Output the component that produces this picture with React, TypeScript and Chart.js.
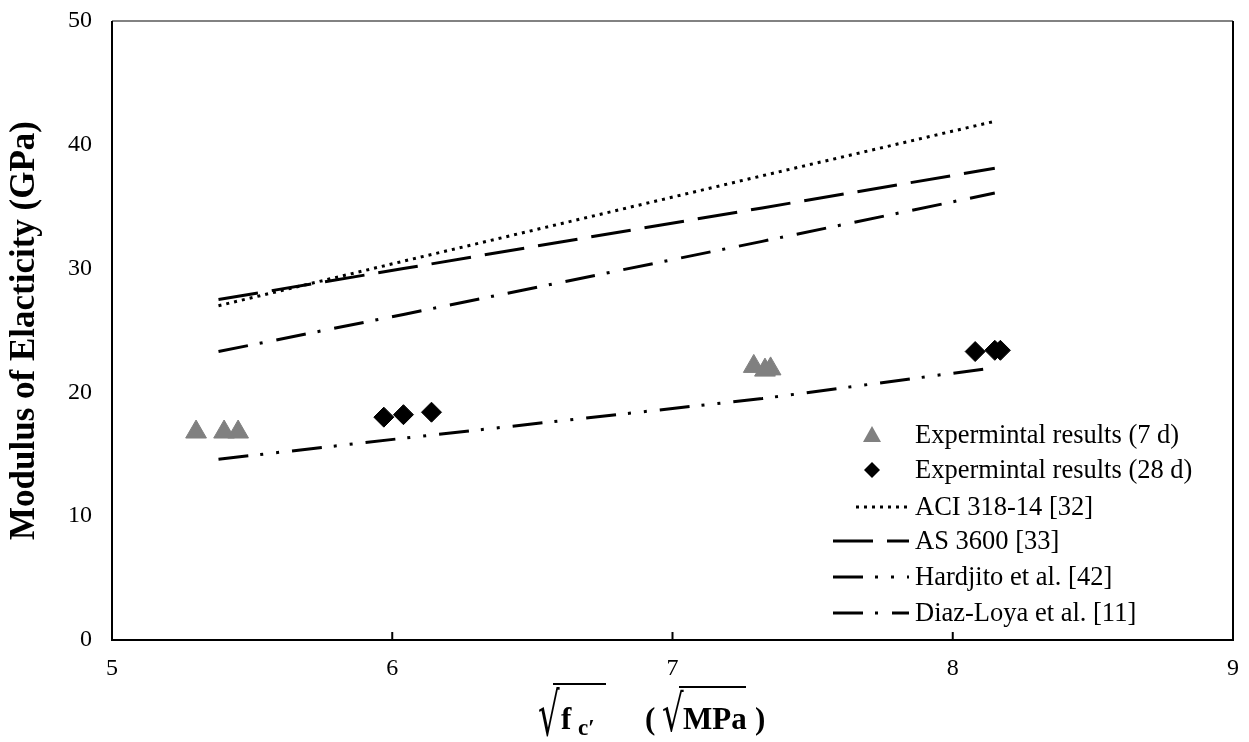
import React, { useEffect, useRef } from "react";
import { Chart, registerables } from "chart.js";

Chart.register(...registerables);

const sevenDayX = [5.3, 5.4, 5.45, 7.29, 7.33, 7.35];
const sevenDayY = [16.8, 16.8, 16.8, 22.1, 21.8, 21.9];
const twentyEightX = [5.97, 6.04, 6.14, 8.08, 8.15, 8.17];
const twentyEightY = [18.0, 18.2, 18.4, 23.3, 23.4, 23.4];
const modelX = [5.38, 6.04, 7.32, 8.15];
const aciY = [27.0, 30.6, 37.5, 41.9];
const as3600Y = [27.5, 30.0, 34.9, 38.1];
const hardjitoY = [14.6, 16.3, 19.5, 22.0];
const diazLoyaY = [23.3, 26.3, 32.2, 36.1];

const xTicks = [5, 6, 7, 8, 9];
const yTicks = [0, 10, 20, 30, 40, 50];

const legendLabels = [
  "Expermintal results (7 d)",
  "Expermintal results (28 d)",
  "ACI 318-14 [32]",
  "AS 3600 [33]",
  "Hardjito et al. [42]",
  "Diaz-Loya et al. [11]",
];

const SERIF = "'Liberation Serif', 'Times New Roman', serif";
const GRAY = "#808080";

const pts = (xs: number[], ys: number[]) => xs.map((x, i) => ({ x, y: ys[i] }));

const dashes: number[][] = [[], [], [3, 5], [40, 14], [30, 12, 3, 13, 3, 13], [30, 12, 3, 14]];

function drawRadical(ctx: any, x: number, baseline: number, sy: number) {
  ctx.save();
  ctx.translate(x, baseline);
  ctx.scale(1, sy);
  ctx.font = `34px 'DejaVu Serif', serif`;
  ctx.fillText("\u221A", 0, 0);
  ctx.restore();
}

const customPlugin = {
  id: "custom",
  afterDraw(chart: any) {
    const ctx = chart.ctx;
    const a = chart.chartArea;
    const xs = chart.scales.x;
    ctx.save();
    // frame
    ctx.setLineDash([]);
    ctx.strokeStyle = "#595959";
    ctx.lineWidth = 1.5;
    ctx.beginPath();
    ctx.moveTo(a.left, a.top);
    ctx.lineTo(a.right, a.top);
    ctx.stroke();
    ctx.strokeStyle = "#000";
    ctx.lineWidth = 2;
    ctx.beginPath();
    ctx.moveTo(a.left, a.top);
    ctx.lineTo(a.left, a.bottom);
    ctx.lineTo(a.right, a.bottom);
    ctx.lineTo(a.right, a.top);
    ctx.stroke();
    // inner ticks on x axis
    xTicks.forEach((t) => {
      const px = xs.getPixelForValue(t);
      ctx.beginPath();
      ctx.moveTo(px, a.bottom);
      ctx.lineTo(px, a.bottom - 8);
      ctx.stroke();
    });

    // legend
    const lx0 = 833;
    const lx1 = 909;
    const mx = 872;
    const tx = 915;
    const rows = [435, 470, 507, 541, 577, 613];
    ctx.font = `26.5px ${SERIF}`;
    ctx.textBaseline = "middle";
    ctx.textAlign = "left";
    rows.forEach((ry, i) => {
      if (i === 0) {
        ctx.fillStyle = GRAY;
        ctx.beginPath();
        ctx.moveTo(mx, ry - 9);
        ctx.lineTo(mx + 9, ry + 7);
        ctx.lineTo(mx - 9, ry + 7);
        ctx.closePath();
        ctx.fill();
      } else if (i === 1) {
        ctx.fillStyle = "#000";
        ctx.beginPath();
        ctx.moveTo(mx, ry - 8);
        ctx.lineTo(mx + 8, ry);
        ctx.lineTo(mx, ry + 8);
        ctx.lineTo(mx - 8, ry);
        ctx.closePath();
        ctx.fill();
      } else {
        ctx.strokeStyle = "#000";
        ctx.lineWidth = 3;
        ctx.setLineDash(dashes[i]);
        ctx.beginPath();
        ctx.moveTo(i === 2 ? 856 : lx0, ry);
        ctx.lineTo(lx1, ry);
        ctx.stroke();
        ctx.setLineDash([]);
      }
      ctx.fillStyle = "#000";
      ctx.fillText(legendLabels[i], tx, ry + 1);
    });

    // x axis title: sqrt(f_c') (sqrt(MPa))
    ctx.fillStyle = "#000";
    ctx.strokeStyle = "#000";
    ctx.textBaseline = "alphabetic";
    const base = 729;
    drawRadical(ctx, 538, 735, 1.75);
    ctx.font = `bold 31px ${SERIF}`;
    ctx.fillText("f", 561, base);
    ctx.font = `bold 23px ${SERIF}`;
    ctx.fillText("c\u2032", 578, base + 6);
    ctx.lineWidth = 2;
    ctx.beginPath();
    ctx.moveTo(553, 684);
    ctx.lineTo(606, 684);
    ctx.stroke();
    ctx.font = `bold 31px ${SERIF}`;
    ctx.fillText("(", 645, base);
    drawRadical(ctx, 662, 731, 1.5);
    ctx.font = `bold 31px ${SERIF}`;
    ctx.fillText("MPa", 683, base);
    ctx.beginPath();
    ctx.moveTo(679, 687);
    ctx.lineTo(746, 687);
    ctx.stroke();
    ctx.fillText(")", 755, base);
    ctx.restore();
  },
};

export default function App() {
  const ref = useRef<HTMLCanvasElement | null>(null);
  useEffect(() => {
    if (!ref.current) return;
    const lineDs = (label: string, ys: number[], dash: number[]) => ({
      type: "scatter" as const,
      label,
      data: pts(modelX, ys),
      showLine: true,
      borderColor: "#000",
      borderWidth: 3,
      borderDash: dash,
      borderCapStyle: "butt" as const,
      pointRadius: 0,
      fill: false,
    });
    const chart = new Chart(ref.current, {
      type: "scatter",
      data: {
        datasets: [
          {
            label: legendLabels[0],
            data: pts(sevenDayX, sevenDayY),
            pointStyle: "triangle",
            pointRadius: 12,
            backgroundColor: GRAY,
            borderColor: GRAY,
            borderWidth: 1,
          },
          {
            label: legendLabels[1],
            data: pts(twentyEightX, twentyEightY),
            pointStyle: "rectRot",
            pointRadius: 10,
            backgroundColor: "#000",
            borderColor: "#000",
            borderWidth: 1,
          },
          lineDs(legendLabels[2], aciY, dashes[2]),
          lineDs(legendLabels[3], as3600Y, dashes[3]),
          lineDs(legendLabels[4], hardjitoY, dashes[4]),
          lineDs(legendLabels[5], diazLoyaY, dashes[5]),
        ],
      },
      options: {
        responsive: false,
        animation: false,
        layout: { padding: { top: 21, right: 16, left: 0, bottom: 0 } },
        plugins: { legend: { display: false }, tooltip: { enabled: false } },
        scales: {
          x: {
            type: "linear",
            min: 5,
            max: 9,
            afterBuildTicks: (s: any) => {
              s.ticks = xTicks.map((v) => ({ value: v }));
            },
            afterFit: (s: any) => {
              s.height = 102;
              s.paddingLeft = 0;
              s.paddingRight = 0;
            },
            grid: { display: false, drawTicks: false },
            border: { display: false },
            ticks: {
              padding: 14,
              color: "#000",
              font: { family: SERIF, size: 24 },
            },
          },
          y: {
            type: "linear",
            min: 0,
            max: 50,
            afterBuildTicks: (s: any) => {
              s.ticks = yTicks.map((v) => ({ value: v }));
            },
            afterFit: (s: any) => {
              s.width = 112;
              s.paddingTop = 0;
              s.paddingBottom = 0;
            },
            grid: { display: false, drawTicks: false },
            border: { display: false },
            ticks: {
              padding: 20,
              color: "#000",
              font: { family: SERIF, size: 24 },
            },
            title: {
              display: true,
              text: "Modulus of Elacticity (GPa)",
              color: "#000",
              font: { family: SERIF, size: 35, weight: "bold" },
              padding: { top: 4, bottom: 0 },
            },
          },
        },
      },
      plugins: [customPlugin],
    });
    return () => chart.destroy();
  }, []);
  return (
    <div style={{ position: "fixed", left: 0, top: 0, width: 1249, height: 742, background: "#fff" }}>
      <canvas ref={ref} width={1249} height={742} style={{ width: 1249, height: 742 }} />
    </div>
  );
}
